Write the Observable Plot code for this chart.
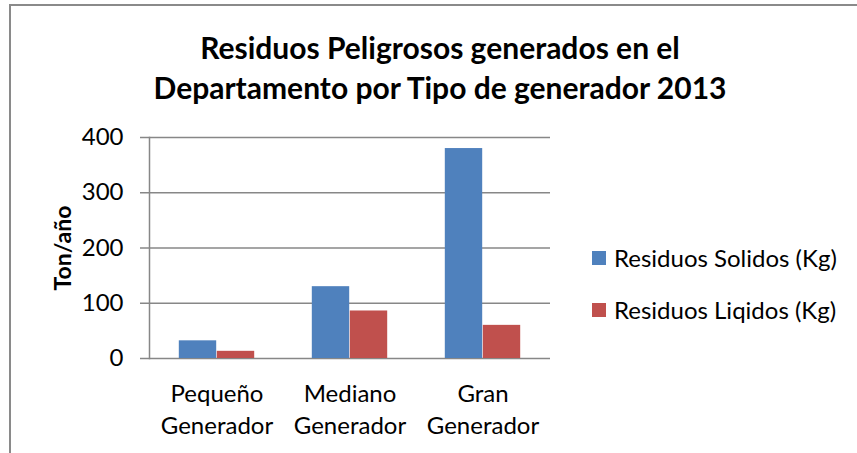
<!DOCTYPE html>
<html><head><meta charset="utf-8">
<script src="https://cdn.jsdelivr.net/npm/d3@7"></script>
<script src="https://cdn.jsdelivr.net/npm/@observablehq/plot@0.6"></script>
<style>
body{margin:0;background:#fff;}
#wrap{position:relative;width:857px;height:453px;overflow:hidden;font-family:Lato,sans-serif;color:#000;}
#border{position:absolute;left:9px;top:4px;width:900px;height:500px;border:2px solid #8a8a8a;box-sizing:border-box;}
#title{position:absolute;left:0;top:27px;width:880px;text-align:center;font-weight:bold;font-size:30px;line-height:40px;}
#chart{position:absolute;left:0;top:115px;}
#ylabel{position:absolute;left:62px;top:248px;transform:translate(-50%,-50%) rotate(-90deg);font-weight:bold;font-size:23px;white-space:nowrap;}
.leg{position:absolute;left:592px;font-size:24px;line-height:28px;white-space:nowrap;display:flex;align-items:center;}
.sw{width:14px;height:14px;margin-right:8px;display:inline-block;}
</style></head>
<body>
<div id="wrap">
  <div id="border"></div>
  <div id="title"></div>
  <div id="chart"></div>
  <div id="ylabel"></div>
  <div id="legend"></div>
</div>
<script>
const titleLines = ["Residuos Peligrosos generados en el", "Departamento por Tipo de generador 2013"];
const yAxisLabel = "Ton/año";
const categories = ["Pequeño Generador", "Mediano Generador", "Gran Generador"];
const tickLabels = ["Pequeño\nGenerador", "Mediano\nGenerador", "Gran\nGenerador"];
const seriesNames = ["Residuos Solidos (Kg)", "Residuos Liqidos (Kg)"];
const seriesColors = ["#4f81bd", "#c0504d"];
const solidos = [32, 130, 380];
const liquidos = [13, 86, 60];
const yTicks = [0, 100, 200, 300, 400];

const data = categories.map((c, i) => ({cat: c, solidos: solidos[i], liquidos: liquidos[i]}));

document.getElementById("title").innerHTML = titleLines.join("<br>");
document.getElementById("ylabel").textContent = yAxisLabel;
const leg = document.getElementById("legend");
seriesNames.forEach((s, i) => {
  const d = document.createElement("div");
  d.className = "leg";
  d.style.top = (244 + i * 52) + "px";
  d.innerHTML = `<span class="sw" style="background:${seriesColors[i]}"></span>${s}`;
  leg.appendChild(d);
});

const gridColor = "#878787";
const chart = Plot.plot({
  width: 857,
  height: 338,
  marginLeft: 149,
  marginRight: 307,
  marginTop: 22,
  marginBottom: 95,
  style: {fontFamily: "Lato, sans-serif", fontSize: "24px", color: "#000", background: "transparent", overflow: "visible"},
  x: {domain: categories, padding: 0, label: null},
  y: {domain: [0, 400], label: null},
  marks: [
    Plot.gridY(yTicks, {stroke: gridColor, strokeOpacity: 1, strokeWidth: 1.5}),
    Plot.axisY(yTicks, {tickSize: 9, tickPadding: 17, stroke: gridColor, strokeWidth: 1.5, label: null, fill: "#000"}),
    Plot.frame({anchor: "left", stroke: gridColor, strokeWidth: 1.5}),
    Plot.barY(data, {x: "cat", y: "solidos", fill: seriesColors[0], insetLeft: 28.8, insetRight: 66.8}),
    Plot.barY(data, {x: "cat", y: "liquidos", fill: seriesColors[1], insetLeft: 66.8, insetRight: 28.8}),
    Plot.axisX({tickSize: 0, tickPadding: 21, label: null, lineHeight: 1.33, fill: "#000",
      tickFormat: d => tickLabels[categories.indexOf(d)]})
  ]
});
document.getElementById("chart").appendChild(chart);
</script>
</body></html>
